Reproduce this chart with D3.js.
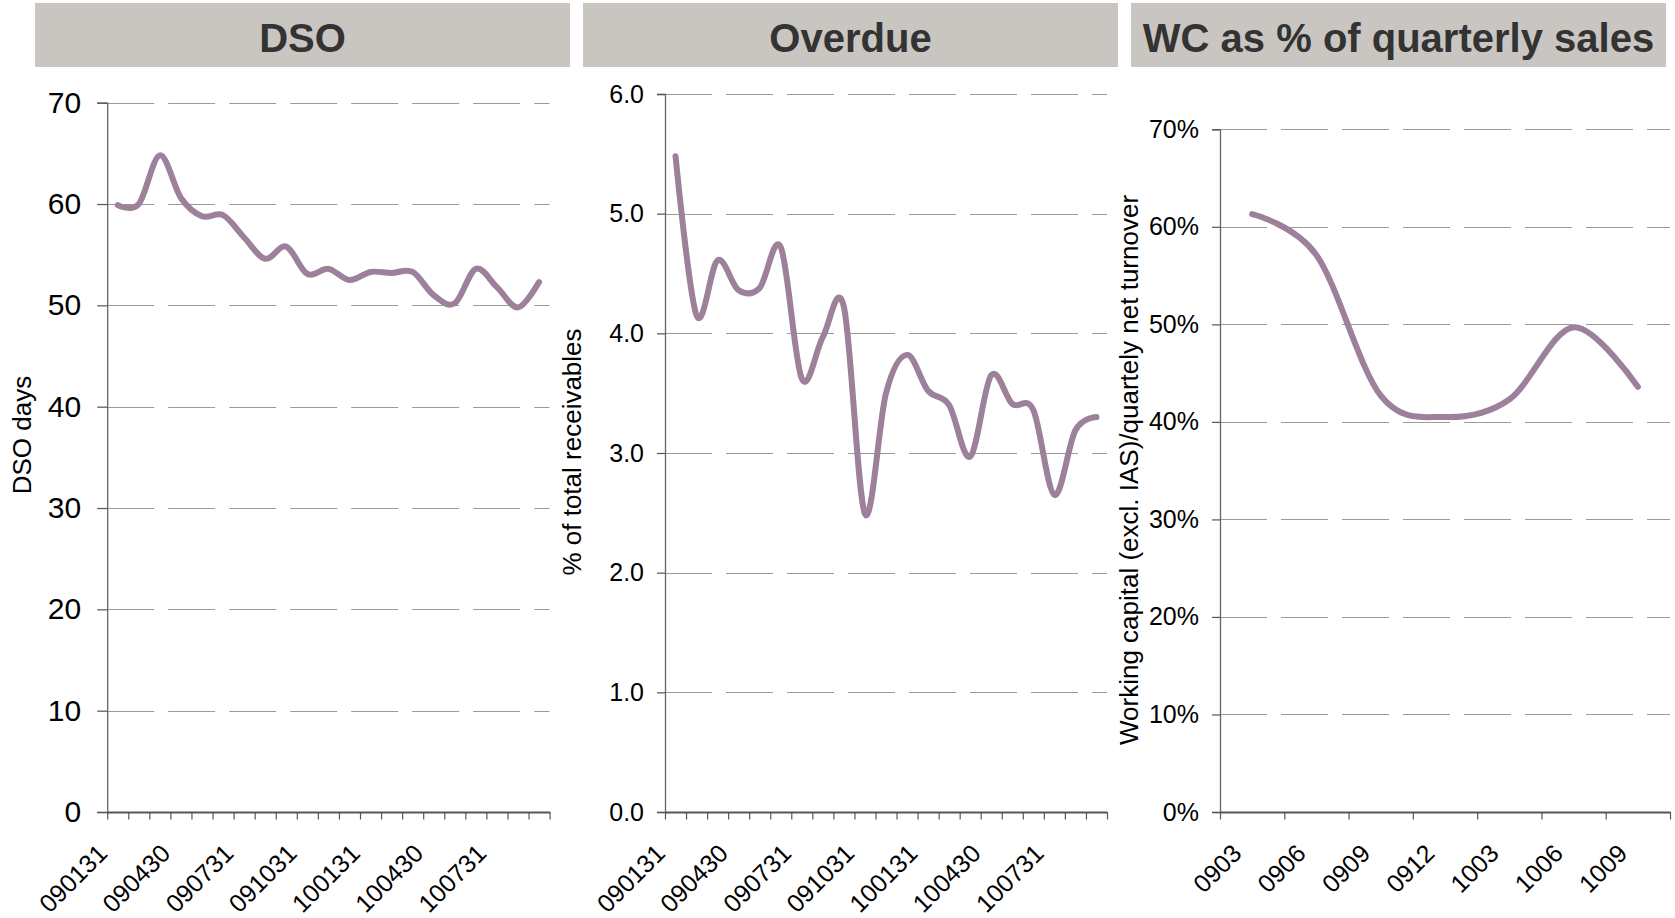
<!DOCTYPE html>
<html>
<head>
<meta charset="utf-8">
<script src="https://cdn.jsdelivr.net/npm/d3@7"></script>
<style>
  body { margin: 0; background: #fff; }
  svg text { font-family: "Liberation Sans", Arial, sans-serif; }
</style>
</head>
<body>
<div id="chart"></div>
<script>
// DSO, month-end dates
var dsoMonths = ["090131", "090228", "090331", "090430", "090531", "090630", "090731",
                 "090831", "090930", "091031", "091130", "091231", "100131", "100228",
                 "100331", "100430", "100531", "100630", "100731", "100831", "100930"];
var dsoDays = [59.9, 60.0, 64.8, 60.6, 58.8, 58.9, 56.7, 54.6, 55.8, 53.1, 53.6,
               52.5, 53.3, 53.2, 53.3, 51.0, 50.2, 53.6, 51.8, 49.8, 52.3];
var dsoTicks = [0, 10, 20, 30, 40, 50, 60, 70];

// Overdue, % of total receivables, same months
var overdueMonths = dsoMonths;
var overduePct = [5.48, 4.15, 4.61, 4.36, 4.38, 4.72, 3.62, 3.97, 4.22, 2.49, 3.50,
                  3.82, 3.52, 3.40, 2.97, 3.65, 3.41, 3.36, 2.65, 3.19, 3.30];
var overdueTicks = [0, 1, 2, 3, 4, 5, 6];

// Working capital as % of quarterly sales
var wcQuarters = ["0903", "0906", "0909", "0912", "1003", "1006", "1009"];
var wcPct = [0.613, 0.571, 0.427, 0.405, 0.423, 0.497, 0.436];
var wcTicks = [0, 0.1, 0.2, 0.3, 0.4, 0.5, 0.6, 0.7];

var W = 1675, H = 918;
var baseY = 812;
var lineColor = "#9d8099";

var svg = d3.select("#chart").append("svg")
    .attr("width", W)
    .attr("height", H);

var panels = [
  { title: "DSO", barX: 35, x0: 107.2, x1: 549.6, gridEnd: 549.6,
    yTop: 102.7, yMax: 70, ticks: dsoTicks, fmt: d3.format("d"),
    tickFont: 30, tickLen: 10, tickPad: 16,
    cats: dsoMonths, values: dsoDays, labelEvery: 3,
    yLabel: "DSO days", yLabelX: 31, yLabelY: 435 },
  { title: "Overdue", barX: 583, x0: 665, x1: 1107, gridEnd: 1107,
    yTop: 94, yMax: 6, ticks: overdueTicks, fmt: d3.format(".1f"),
    tickFont: 25, tickLen: 8, tickPad: 13,
    cats: overdueMonths, values: overduePct, labelEvery: 3,
    yLabel: "% of total receivables", yLabelX: 581, yLabelY: 452 },
  { title: "WC as % of quarterly sales", barX: 1131, x0: 1220, x1: 1670, gridEnd: 1670,
    yTop: 129.3, yMax: 0.7, ticks: wcTicks, fmt: d3.format(".0%"),
    tickFont: 25, tickLen: 8, tickPad: 13,
    cats: wcQuarters, values: wcPct, labelEvery: 1,
    yLabel: "Working capital (excl. IAS)/quartely net turnover", yLabelX: 1138, yLabelY: 470 }
];

panels.forEach(function(p){ buildPanel(p); });

function buildPanel(p){
  var g = svg.append("g");

  // title bar
  g.append("rect")
    .attr("x", p.barX).attr("y", 3)
    .attr("width", 535).attr("height", 64)
    .attr("fill", "#c9c6c1");
  g.append("text")
    .attr("x", p.barX + 535 / 2)
    .attr("y", 52)
    .style("text-anchor", "middle")
    .style("font-size", "40px")
    .style("font-weight", "bold")
    .style("fill", "#333")
    .text(p.title);

  var y = d3.scaleLinear().domain([0, p.yMax]).range([baseY, p.yTop]);
  var x = d3.scaleBand().domain(p.cats).range([p.x0, p.x1]).padding(0);
  var edges = d3.scaleLinear().domain([0, p.cats.length]).range([p.x0, p.x1]);

  // dashed gridlines
  g.selectAll(".grid")
    .data(p.ticks.filter(function(t){ return t > 0; }))
    .enter().append("line")
    .attr("x1", p.x0).attr("x2", p.gridEnd)
    .attr("y1", function(d){ return Math.round(y(d)) + 0.5; })
    .attr("y2", function(d){ return Math.round(y(d)) + 0.5; })
    .attr("stroke", "#9a9a9a")
    .attr("stroke-width", 1)
    .attr("stroke-dasharray", "47,14");

  // y axis
  var yAxis = g.append("g")
    .attr("transform", "translate(" + p.x0 + ",0)")
    .call(d3.axisLeft(y).tickValues(p.ticks).tickFormat(p.fmt)
          .tickSize(p.tickLen).tickPadding(p.tickPad));
  yAxis.select(".domain").attr("stroke", "#666").attr("stroke-width", 1.3);
  yAxis.selectAll(".tick line").attr("stroke", "#555").attr("stroke-width", 1.2);
  yAxis.selectAll(".tick text")
    .style("font-size", p.tickFont + "px")
    .style("font-family", "Liberation Sans, Arial, sans-serif")
    .attr("fill", "#000");

  // x axis: tick marks between categories
  var xAxis = g.append("g")
    .attr("transform", "translate(0," + baseY + ")")
    .call(d3.axisBottom(edges).tickValues(d3.range(p.cats.length + 1))
          .tickFormat("").tickSize(7.5).tickSizeOuter(0));
  xAxis.select(".domain").attr("stroke", "#555").attr("stroke-width", 1.8);
  xAxis.selectAll(".tick line").attr("stroke", "#555").attr("stroke-width", 1.2);

  // rotated category labels
  g.selectAll(".xlab")
    .data(p.cats.filter(function(c, i){ return i % p.labelEvery === 0; }))
    .enter().append("text")
    .attr("transform", function(d){
      var cx = x(d) + x.bandwidth() / 2 - 9;
      return "translate(" + cx + "," + (baseY + 43) + ") rotate(-45)";
    })
    .style("text-anchor", "end")
    .style("font-size", "25px")
    .style("fill", "#000")
    .text(function(d){ return d; });

  // axis title
  g.append("text")
    .attr("transform", "translate(" + p.yLabelX + "," + p.yLabelY + ") rotate(-90)")
    .style("text-anchor", "middle")
    .style("font-size", "26px")
    .style("fill", "#000")
    .text(p.yLabel);

  // smoothed line
  var line = d3.line()
    .x(function(d, i){ return x(p.cats[i]) + x.bandwidth() / 2; })
    .y(function(d){ return y(d); })
    .curve(d3.curveCatmullRom.alpha(0));

  g.append("path")
    .datum(p.values)
    .attr("d", line)
    .attr("fill", "none")
    .attr("stroke", lineColor)
    .attr("stroke-width", 6)
    .attr("stroke-linecap", "round")
    .attr("stroke-linejoin", "round");
}
</script>
</body>
</html>
